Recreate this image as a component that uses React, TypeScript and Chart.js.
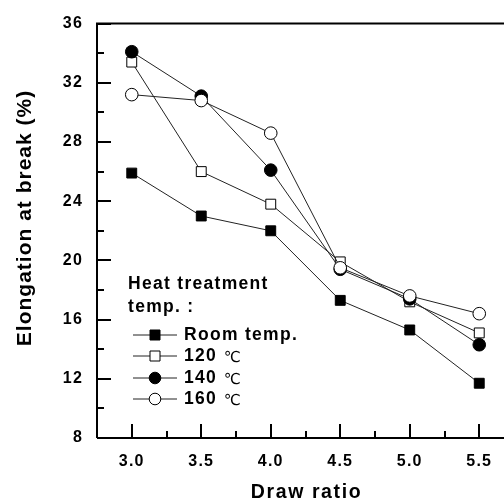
import React, { useEffect, useRef } from "react";
import { Chart, registerables } from "chart.js";

Chart.register(...registerables);

const drawRatios = [3.0, 3.5, 4.0, 4.5, 5.0, 5.5];
const roomTemp = [25.9, 23.0, 22.0, 17.3, 15.3, 11.7];
const temp120 = [33.4, 26.0, 23.8, 19.9, 17.2, 15.1];
const temp140 = [34.1, 31.1, 26.1, 19.4, 17.4, 14.3];
const temp160 = [31.2, 30.8, 28.6, 19.5, 17.6, 16.4];
const seriesLabels = ["Room temp.", "120 \u2103", "140 \u2103", "160 \u2103"];
const legendTitle = ["Heat treatment", "temp. :"];
const xTicks = [3.0, 3.5, 4.0, 4.5, 5.0, 5.5];
const xMinorTicks = [3.25, 3.75, 4.25, 4.75, 5.25];
const yTicks = [8, 12, 16, 20, 24, 28, 32, 36];
const yMinorTicks = [10, 14, 18, 22, 26, 30, 34];
const xTitle = "Draw ratio";
const yTitle = "Elongation at break (%)";

const FONT = "'Liberation Sans', Arial, Helvetica, sans-serif";

export default function App() {
  const ref = useRef<HTMLCanvasElement | null>(null);
  useEffect(() => {
    if (!ref.current) return;
    const mk = (vals: number[]) => vals.map((v, i) => ({ x: drawRatios[i], y: v }));
    const styles = [
      { pointStyle: "rect", bg: "#000", radius: 7 },
      { pointStyle: "rect", bg: "#fff", radius: 7 },
      { pointStyle: "circle", bg: "#000", radius: 6.3 },
      { pointStyle: "circle", bg: "#fff", radius: 6.3 },
    ];
    const allData = [roomTemp, temp120, temp140, temp160];
    const datasets = allData.map((vals, i) => ({
      label: seriesLabels[i],
      data: mk(vals),
      borderColor: "#222",
      borderWidth: 1,
      pointStyle: styles[i].pointStyle as any,
      pointRadius: styles[i].radius,
      pointBackgroundColor: styles[i].bg,
      pointBorderColor: "#000",
      pointBorderWidth: 1,
      showLine: true,
      order: 3 - i,
    }));

    const spacing = {
      id: "spacing",
      beforeDraw(chart: any) {
        (chart.ctx as any).letterSpacing = "1.2px";
      },
    };

    const frame = {
      id: "frame",
      afterDatasetsDraw(chart: any) {
        const ctx = chart.ctx;
        const ca = chart.chartArea;
        const xs = chart.scales.x;
        const ys = chart.scales.y;
        ctx.save();
        ctx.strokeStyle = "#000";
        ctx.lineWidth = 2;
        ctx.beginPath();
        ctx.moveTo(ca.left, ca.bottom);
        ctx.lineTo(ca.left, ca.top);
        ctx.lineTo(ca.right, ca.top);
        ctx.moveTo(ca.left, ca.bottom);
        ctx.lineTo(ca.right, ca.bottom);
        ctx.stroke();
        ctx.beginPath();
        xTicks.forEach((v) => {
          const p = Math.round(xs.getPixelForValue(v));
          ctx.moveTo(p, ca.bottom);
          ctx.lineTo(p, ca.bottom - 14);
        });
        xMinorTicks.forEach((v) => {
          const p = Math.round(xs.getPixelForValue(v));
          ctx.moveTo(p, ca.bottom);
          ctx.lineTo(p, ca.bottom - 7);
        });
        yTicks.forEach((v) => {
          const p = Math.round(ys.getPixelForValue(v));
          ctx.moveTo(ca.left, p);
          ctx.lineTo(ca.left + 14, p);
        });
        yMinorTicks.forEach((v) => {
          const p = Math.round(ys.getPixelForValue(v));
          ctx.moveTo(ca.left, p);
          ctx.lineTo(ca.left + 7, p);
        });
        ctx.stroke();

        // axis titles
        ctx.fillStyle = "#000";
        ctx.textAlign = "center";
        ctx.textBaseline = "middle";
        (ctx as any).letterSpacing = "1.6px";
        ctx.font = `bold 19.5px ${FONT}`;
        ctx.fillText(xTitle, (ca.left + ca.right) / 2 + 1, 493);
        (ctx as any).letterSpacing = "1px";
        ctx.font = `bold 21px ${FONT}`;
        ctx.save();
        ctx.translate(25, 218);
        ctx.rotate(-Math.PI / 2);
        ctx.fillText(yTitle, 0, 0);
        ctx.restore();

        // legend
        (ctx as any).letterSpacing = "1.3px";
        ctx.fillStyle = "#000";
        ctx.font = `bold 17.5px ${FONT}`;
        ctx.textBaseline = "middle";
        ctx.textAlign = "left";
        ctx.fillText(legendTitle[0], 128, 284);
        ctx.fillText(legendTitle[1], 128, 307);
        const rows = [335, 356, 378, 399];
        datasets.forEach((ds, i) => {
          const y = rows[i];
          ctx.strokeStyle = "#222";
          ctx.lineWidth = 1;
          ctx.beginPath();
          ctx.moveTo(133, y);
          ctx.lineTo(177, y);
          ctx.stroke();
          ctx.fillStyle = styles[i].bg;
          ctx.strokeStyle = "#000";
          ctx.beginPath();
          if (styles[i].pointStyle === "rect") {
            const s = 5;
            ctx.rect(155 - s, y - s, 2 * s, 2 * s);
          } else {
            ctx.arc(155, y, 5.8, 0, Math.PI * 2);
          }
          ctx.fill();
          ctx.stroke();
          ctx.fillStyle = "#000";
          const label = ds.label;
          const idx = label.indexOf("\u2103");
          if (idx >= 0) {
            const num = label.slice(0, idx).trim();
            ctx.font = `bold 17.5px ${FONT}`;
            ctx.fillText(num, 184, y);
            const w = ctx.measureText(num).width;
            (ctx as any).letterSpacing = "0px";
            ctx.font = `15px 'DejaVu Sans', sans-serif`;
            ctx.fillText("\u2103", 184 + w + 7, y + 2);
            (ctx as any).letterSpacing = "1.3px";
          } else {
            ctx.font = `bold 17.5px ${FONT}`;
            ctx.fillText(label, 184, y);
          }
        });
        ctx.restore();
      },
    };

    const chart = new Chart(ref.current, {
      type: "scatter",
      data: { datasets },
      options: {
        animation: false,
        responsive: false,
        layout: { padding: { top: 19, right: 16, left: 0, bottom: 0 } },
        plugins: { legend: { display: false }, tooltip: { enabled: false } },
        scales: {
          x: {
            type: "linear",
            min: 2.75,
            max: 5.75,
            grid: { display: false, drawTicks: false },
            border: { display: false },
            afterBuildTicks: (s: any) => {
              s.ticks = xTicks.map((v) => ({ value: v }));
            },
            afterFit: (s: any) => {
              s.height = 65;
            },
            ticks: {
              color: "#000",
              padding: 14,
              font: { family: FONT, size: 16, weight: "bold" },
              callback: (v: any) => Number(v).toFixed(1),
            },
            title: { display: false, text: xTitle },
          },
          y: {
            type: "linear",
            min: 8,
            max: 36,
            grid: { display: false, drawTicks: false },
            border: { display: false },
            afterBuildTicks: (s: any) => {
              s.ticks = yTicks.map((v) => ({ value: v }));
            },
            afterFit: (s: any) => {
              s.width = 97;
            },
            ticks: {
              color: "#000",
              padding: 14,
              font: { family: FONT, size: 16, weight: "bold" },
            },
            title: { display: false, text: yTitle },
          },
        },
      },
      plugins: [spacing, frame],
    } as any);
    return () => chart.destroy();
  }, []);

  return (
    <div
      style={{
        position: "fixed",
        left: 0,
        top: 0,
        width: 504,
        height: 503,
        overflow: "hidden",
        background: "#fff",
      }}
    >
      <canvas ref={ref} width={530} height={503} style={{ display: "block" }} />
    </div>
  );
}
